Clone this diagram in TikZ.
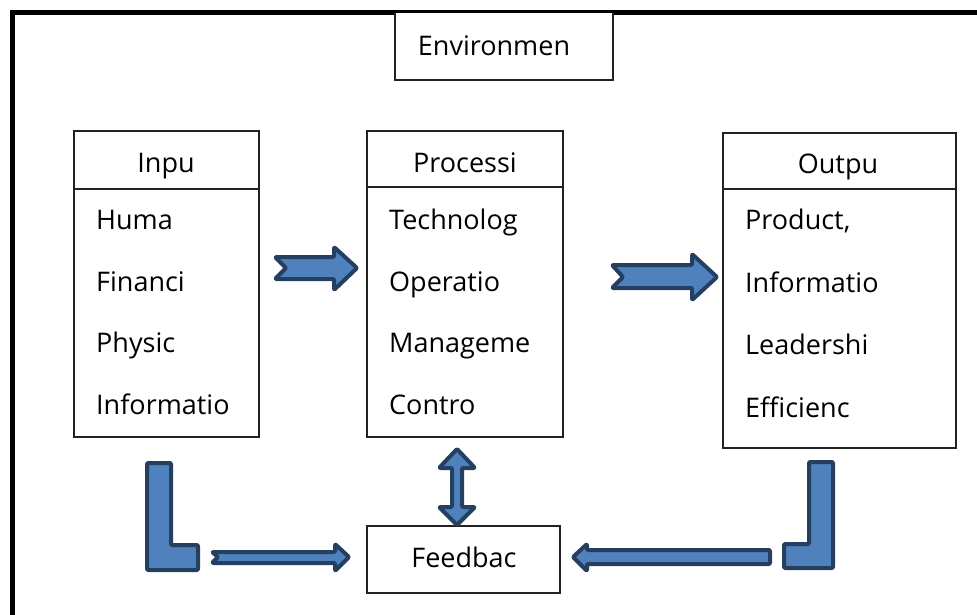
\documentclass[tikz,border=0pt]{standalone}
\usepackage{fontspec}
\setmainfont{Open Sans}
\definecolor{arrowfill}{HTML}{4F81BD}
\definecolor{arrowline}{HTML}{243F60}
\definecolor{boxline}{HTML}{222222}
\begin{document}
\begin{tikzpicture}[x=1pt,y=-1pt,
  every node/.style={font=\fontsize{27}{32}\selectfont},
  boxshape/.style={draw=boxline,line width=1.6pt,fill=white},
  itemtext/.style={anchor=base west,inner sep=0pt},
  headtext/.style={anchor=base,inner sep=0pt},
  blockarrow/.style={fill=arrowfill,draw=arrowline,line width=4pt,line join=round,rounded corners=1pt}]
\useasboundingbox (0,0) rectangle (977,614);
\begin{scope}
\clip (0,0) rectangle (977,614);
\draw[line width=5pt] (12,12.5) rectangle (1000,640);
\end{scope}
% environment
\draw[boxshape] (395,12.5) -- (395,80) -- (613,80) -- (613,12.5);
\node[headtext] (env) at (494,55) {Environmen};
% boxes
\draw[boxshape] (74,131) rectangle (259,437);
\draw[boxline,line width=1.6pt] (74,189) -- (259,189);
\draw[boxshape] (367,131) rectangle (563,437);
\draw[boxline,line width=1.6pt] (367,187) -- (563,187);
\draw[boxshape] (723,133) rectangle (956,448);
\draw[boxline,line width=1.6pt] (723,189) -- (956,189);
\draw[boxshape] (367,526) rectangle (560,593);
% headers
\node[headtext] (inh) at (166,172) {Inpu};
\node[headtext] (proch) at (465,172) {Processi};
\node[headtext] (outh) at (838,173) {Outpu};
\node[headtext] (fb) at (464,567) {Feedbac};
% input items
\node[itemtext] (i1) at (96,229) {Huma};
\node[itemtext] (i2) at (96,291) {Financi};
\node[itemtext] (i3) at (96,352) {Physic};
\node[itemtext] (i4) at (96,414) {Informatio};
% process items
\node[itemtext] (p1) at (389,229) {Technolog};
\node[itemtext] (p2) at (389,291) {Operatio};
\node[itemtext] (p3) at (389,352) {Manageme};
\node[itemtext] (p4) at (389,414) {Contro};
% output items
\node[itemtext] (o1) at (745,229) {Product,};
\node[itemtext] (o2) at (745,292) {Informatio};
\node[itemtext] (o3) at (745,354) {Leadershi};
\node[itemtext] (o4) at (745,417) {Efficienc};
% arrows
\draw[blockarrow] (275,257) -- (334,257) -- (334,247) -- (357,268) -- (334,290) -- (334,279) -- (275,279) -- (286,268) -- cycle;
\draw[blockarrow] (612,265) -- (692,265) -- (692,254) -- (717,277) -- (692,300) -- (692,288) -- (612,288) -- (623,277) -- cycle;
\draw[blockarrow] (212,552) -- (335,552) -- (335,544) -- (349,557) -- (335,571) -- (335,563) -- (212,563) -- (218,557) -- cycle;
\draw[blockarrow] (770,550) -- (587,550) -- (587,544) -- (573,557) -- (587,571) -- (587,564) -- (770,564) -- cycle;
\draw[blockarrow] (147,463) -- (171,463) -- (171,545) -- (198,545) -- (198,570) -- (147,570) -- cycle;
\draw[blockarrow] (809,462) -- (833,462) -- (833,568) -- (784,568) -- (784,544) -- (809,544) -- cycle;
\draw[blockarrow] (457,449) -- (475,468) -- (462,468) -- (462,507) -- (475,507) -- (457,525) -- (439,507) -- (452,507) -- (452,468) -- (439,468) -- cycle;
\end{tikzpicture}
\end{document}
